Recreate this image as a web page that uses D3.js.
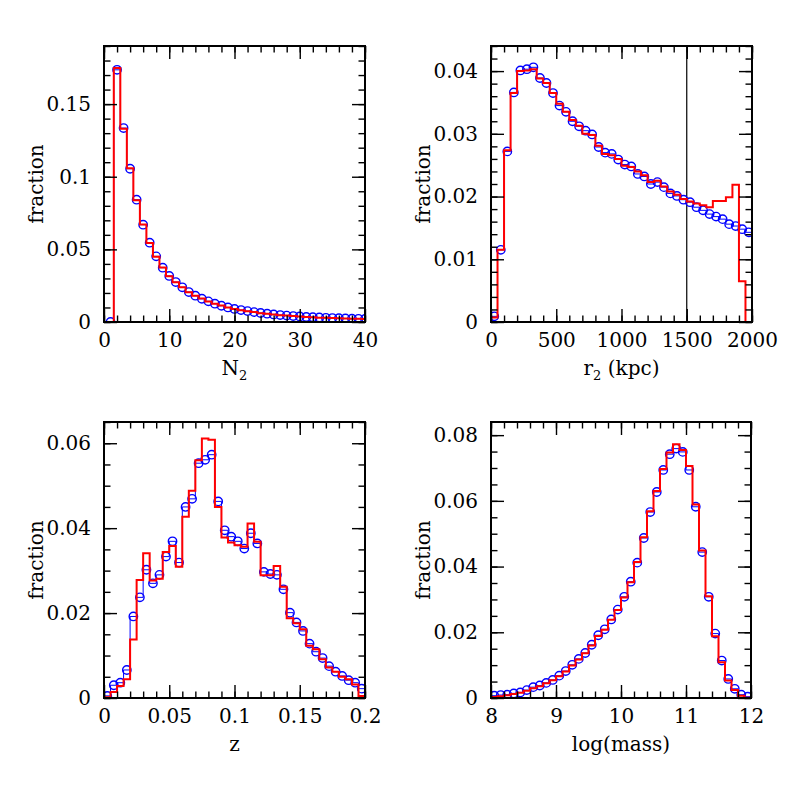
<!DOCTYPE html>
<html>
<head>
<meta charset="utf-8">
<script src="https://cdn.jsdelivr.net/npm/d3@7"></script>
<style>
    body { margin: 0; background: #fff; }
    svg text { font-family: "DejaVu Serif", serif; }
</style>
</head>
<body>
<svg id="chart" width="797" height="797"></svg>
<script>
// ---- data ----
const n2Centers = [1,2,3,4,5,6,7,8,9,10,11,12,13,14,15,16,17,18,19,20,
    21,22,23,24,25,26,27,28,29,30,31,32,33,34,35,36,37,38,39,40];
const n2Blue = [0, 0.1736, 0.1335, 0.1055, 0.0842, 0.0670, 0.0546, 0.0452, 0.0374, 0.0317,
    0.0275, 0.0239, 0.0206, 0.0181, 0.0160, 0.0142, 0.0126, 0.0112, 0.0100, 0.0090,
    0.0082, 0.0075, 0.0068, 0.0062, 0.0057, 0.0052, 0.0048, 0.0044, 0.0041, 0.0038,
    0.0035, 0.0033, 0.0031, 0.0029, 0.0027, 0.0026, 0.0024, 0.0023, 0.0022, 0.0021];
const n2Red = [0, 0.1748, 0.1330, 0.1058, 0.0838, 0.0672, 0.0543, 0.0450, 0.0376, 0.0315,
    0.0273, 0.0240, 0.0205, 0.0180, 0.0161, 0.0141, 0.0125, 0.0113, 0.0099, 0.0090,
    0.0081, 0.0074, 0.0068, 0.0061, 0.0057, 0.0052, 0.0047, 0.0044, 0.0041, 0.0038,
    0.0035, 0.0033, 0.0030, 0.0029, 0.0027, 0.0025, 0.0024, 0.0023, 0.0022, 0.0021];

const r2Centers = [25,75,125,175,225,275,325,375,425,475,525,575,625,675,725,775,825,875,925,975,
    1025,1075,1125,1175,1225,1275,1325,1375,1425,1475,1525,1575,1625,1675,1725,1775,1825,1875,1925,1975];
const r2Blue = [0.0009, 0.0115, 0.0272, 0.0366, 0.0401, 0.0403, 0.0406, 0.0389, 0.0381, 0.0365,
    0.0345, 0.0335, 0.0320, 0.0312, 0.0305, 0.0299, 0.0279, 0.0270, 0.0268, 0.0259,
    0.0251, 0.0248, 0.0236, 0.0232, 0.0220, 0.0223, 0.0215, 0.0205, 0.0201, 0.0195,
    0.0191, 0.0183, 0.0178, 0.0172, 0.0168, 0.0164, 0.0156, 0.0153, 0.0148, 0.0143];
const r2Red = [0.0007, 0.0115, 0.0274, 0.0365, 0.0400, 0.0401, 0.0403, 0.0388, 0.0381, 0.0365,
    0.0348, 0.0335, 0.0322, 0.0313, 0.0300, 0.0298, 0.0281, 0.0268, 0.0266, 0.0260,
    0.0249, 0.0247, 0.0240, 0.0234, 0.0223, 0.0225, 0.0216, 0.0208, 0.0203, 0.0196,
    0.0192, 0.0189, 0.0186, 0.0183, 0.0193, 0.0193, 0.0199, 0.0219, 0.0065, 0];
const r2Cut = 1500;

const zCenters = [0.0025,0.0075,0.0125,0.0175,0.0225,0.0275,0.0325,0.0375,0.0425,0.0475,
    0.0525,0.0575,0.0625,0.0675,0.0725,0.0775,0.0825,0.0875,0.0925,0.0975,
    0.1025,0.1075,0.1125,0.1175,0.1225,0.1275,0.1325,0.1375,0.1425,0.1475,
    0.1525,0.1575,0.1625,0.1675,0.1725,0.1775,0.1825,0.1875,0.1925,0.1975];
const zBlue = [0.0005, 0.0030, 0.0036, 0.0066, 0.0192, 0.0237, 0.0302, 0.0270, 0.0290, 0.0333,
    0.0369, 0.0319, 0.0450, 0.0469, 0.0553, 0.0561, 0.0573, 0.0463, 0.0395, 0.0380,
    0.0369, 0.0352, 0.0388, 0.0364, 0.0297, 0.0292, 0.0290, 0.0256, 0.0201, 0.0178,
    0.0158, 0.0128, 0.0109, 0.0094, 0.0075, 0.0062, 0.0052, 0.0042, 0.0036, 0.0022];
const zRed = [0.0002, 0.0014, 0.0028, 0.0044, 0.0138, 0.0278, 0.0341, 0.0277, 0.0281, 0.0344,
    0.0358, 0.0309, 0.0427, 0.0488, 0.0560, 0.0611, 0.0608, 0.0450, 0.0378, 0.0366,
    0.0360, 0.0356, 0.0411, 0.0368, 0.0289, 0.0289, 0.0311, 0.0262, 0.0188, 0.0176,
    0.0162, 0.0123, 0.0115, 0.0091, 0.0072, 0.0062, 0.0050, 0.0044, 0.0032, 0.0005];

const massCenters = [8.05,8.15,8.25,8.35,8.45,8.55,8.65,8.75,8.85,8.95,
    9.05,9.15,9.25,9.35,9.45,9.55,9.65,9.75,9.85,9.95,
    10.05,10.15,10.25,10.35,10.45,10.55,10.65,10.75,10.85,10.95,
    11.05,11.15,11.25,11.35,11.45,11.55,11.65,11.75,11.85,11.95];
const massBlue = [0.0007, 0.0009, 0.0010, 0.0014, 0.0017, 0.0024, 0.0033, 0.0038, 0.0046, 0.0055,
    0.0068, 0.0082, 0.0101, 0.0119, 0.0137, 0.0162, 0.0191, 0.0209, 0.0239, 0.0269,
    0.0308, 0.0354, 0.0412, 0.0487, 0.0566, 0.0627, 0.0694, 0.0742, 0.0759, 0.0749,
    0.0694, 0.0582, 0.0444, 0.0308, 0.0196, 0.0114, 0.0058, 0.0028, 0.0010, 0.0004];
const massRed = [0.0003, 0.0005, 0.0008, 0.0012, 0.0016, 0.0022, 0.0030, 0.0036, 0.0045, 0.0054,
    0.0066, 0.0081, 0.0099, 0.0117, 0.0136, 0.0160, 0.0189, 0.0208, 0.0238, 0.0268,
    0.0306, 0.0352, 0.0414, 0.0489, 0.0568, 0.0630, 0.0697, 0.0747, 0.0772, 0.0755,
    0.0706, 0.0589, 0.0449, 0.0310, 0.0188, 0.0109, 0.0053, 0.0024, 0.0007, 0.0001];

// tick labels
const n2Ticks = [0, 10, 20, 30, 40];
const n2YTicks = [0, 0.05, 0.1, 0.15];
const r2Ticks = [0, 500, 1000, 1500, 2000];
const r2YTicks = [0, 0.01, 0.02, 0.03, 0.04];
const zTicks = [0, 0.05, 0.1, 0.15, 0.2];
const zYTicks = [0, 0.02, 0.04, 0.06];
const massTicks = [8, 9, 10, 11, 12];
const massYTicks = [0, 0.02, 0.04, 0.06, 0.08];

const svg = d3.select("#chart");
const bigTick = 13, smallTick = 6.5, fontSize = 20;

const panels = [
    { x: 104, y: 46, w: 261, h: 276, centers: n2Centers, blue: n2Blue, red: n2Red,
      xDom: [0, 40], yDom: [0, 0.19], xTicks: n2Ticks, xMinor: 2, yTicks: n2YTicks, yMinor: 0.01,
      label: ["N", "2", ""] },
    { x: 491, y: 46, w: 261, h: 276, centers: r2Centers, blue: r2Blue, red: r2Red,
      xDom: [0, 2000], yDom: [0, 0.044], xTicks: r2Ticks, xMinor: 100, yTicks: r2YTicks, yMinor: 0.002,
      label: ["r", "2", " (kpc)"], cut: r2Cut },
    { x: 104, y: 422, w: 261, h: 276, centers: zCenters, blue: zBlue, red: zRed,
      xDom: [0, 0.2], yDom: [0, 0.065], xTicks: zTicks, xMinor: 0.01, yTicks: zYTicks, yMinor: 0.005,
      label: ["z", "", ""] },
    { x: 491, y: 422, w: 260, h: 276, centers: massCenters, blue: massBlue, red: massRed,
      xDom: [8, 12], yDom: [0, 0.084], xTicks: massTicks, xMinor: 0.2, yTicks: massYTicks, yMinor: 0.005,
      label: ["log(mass)", "", ""] }
];

function minorTicks(dom, step) {
    const n = Math.round((dom[1] - dom[0]) / step);
    return d3.range(n + 1).map(i => dom[0] + i * step);
}

function styleAxis(sel) {
    sel.select(".domain").remove();
    sel.selectAll("line").attr("stroke", "#000").attr("stroke-width", 1.4);
    sel.attr("font-size", fontSize).attr("font-family", "DejaVu Serif, serif");
    sel.selectAll("text").attr("fill", "#000");
}

panels.forEach((p, idx) => {
    const g = svg.append("g").attr("transform", `translate(${p.x},${p.y})`);
    const xs = d3.scaleLinear().domain(p.xDom).range([0, p.w]);
    const ys = d3.scaleLinear().domain(p.yDom).range([p.h, 0]);
    const xm = minorTicks(p.xDom, p.xMinor);
    const ym = minorTicks(p.yDom, p.yMinor).filter(v => v <= p.yDom[1] + 1e-9);

    // clip
    const clipId = "clip" + idx;
    g.append("clipPath").attr("id", clipId)
        .append("rect").attr("width", p.w).attr("height", p.h);
    const plot = g.append("g").attr("clip-path", `url(#${clipId})`);

    // step histograms
    const bw = p.centers[1] - p.centers[0];
    const stepPoints = vals => {
        const pts = p.centers.map((c, i) => [c - bw / 2, vals[i]]);
        pts.push([p.centers[p.centers.length - 1] + bw / 2, vals[vals.length - 1]]);
        return pts;
    };
    const line = d3.line().x(d => xs(d[0])).y(d => ys(d[1])).curve(d3.curveStepAfter);

    if (p.cut !== undefined) {
        plot.append("line")
            .attr("x1", xs(p.cut)).attr("x2", xs(p.cut))
            .attr("y1", 0).attr("y2", p.h)
            .attr("stroke", "#000").attr("stroke-width", 1.2);
    }

    plot.append("path")
        .attr("d", line(stepPoints(p.blue)))
        .attr("fill", "none").attr("stroke", "#0000ff").attr("stroke-width", 1);

    plot.selectAll("circle")
        .data(p.centers.map((c, i) => [c, p.blue[i]]))
        .join("circle")
        .attr("cx", d => xs(d[0]))
        .attr("cy", d => ys(d[1]))
        .attr("r", 4.2)
        .attr("fill", "none")
        .attr("stroke", "#0000ff")
        .attr("stroke-width", 1.4);

    plot.append("path")
        .attr("d", line(stepPoints(p.red)))
        .attr("fill", "none").attr("stroke", "#ff0000").attr("stroke-width", 2);

    // axes: inward ticks on all four sides
    g.append("g").attr("transform", `translate(0,${p.h})`)
        .call(d3.axisBottom(xs).tickValues(xm).tickSize(-smallTick).tickFormat(""))
        .call(styleAxis);
    g.append("g").attr("transform", `translate(0,${p.h})`)
        .call(d3.axisBottom(xs).tickValues(p.xTicks).tickSize(-bigTick).tickPadding(11).tickFormat(d => String(d)))
        .call(styleAxis);
    g.append("g")
        .call(d3.axisTop(xs).tickValues(xm).tickSize(-smallTick).tickFormat(""))
        .call(styleAxis);
    g.append("g")
        .call(d3.axisTop(xs).tickValues(p.xTicks).tickSize(-bigTick).tickFormat(""))
        .call(styleAxis);

    g.append("g")
        .call(d3.axisLeft(ys).tickValues(ym).tickSize(-smallTick).tickFormat(""))
        .call(styleAxis);
    g.append("g")
        .call(d3.axisLeft(ys).tickValues(p.yTicks).tickSize(-bigTick).tickPadding(13).tickFormat(d => String(d)))
        .call(styleAxis);
    g.append("g").attr("transform", `translate(${p.w},0)`)
        .call(d3.axisRight(ys).tickValues(ym).tickSize(-smallTick).tickFormat(""))
        .call(styleAxis);
    g.append("g").attr("transform", `translate(${p.w},0)`)
        .call(d3.axisRight(ys).tickValues(p.yTicks).tickSize(-bigTick).tickFormat(""))
        .call(styleAxis);

    // frame
    g.append("rect")
        .attr("width", p.w).attr("height", p.h)
        .attr("fill", "none").attr("stroke", "#000").attr("stroke-width", 2);

    // x title
    const xt = g.append("text")
        .attr("x", p.w / 2).attr("y", p.h + 53)
        .attr("text-anchor", "middle")
        .attr("font-size", fontSize);
    xt.append("tspan").text(p.label[0]);
    if (p.label[1]) {
        xt.append("tspan").attr("font-size", 13).attr("dy", 5).text(p.label[1]);
        if (p.label[2]) xt.append("tspan").attr("dy", -5).text(p.label[2]);
    }

    // y title
    g.append("text")
        .attr("transform", `translate(-61,${p.h / 2}) rotate(-90)`)
        .attr("text-anchor", "middle")
        .attr("font-size", fontSize)
        .text("fraction");
});
</script>
</body>
</html>
